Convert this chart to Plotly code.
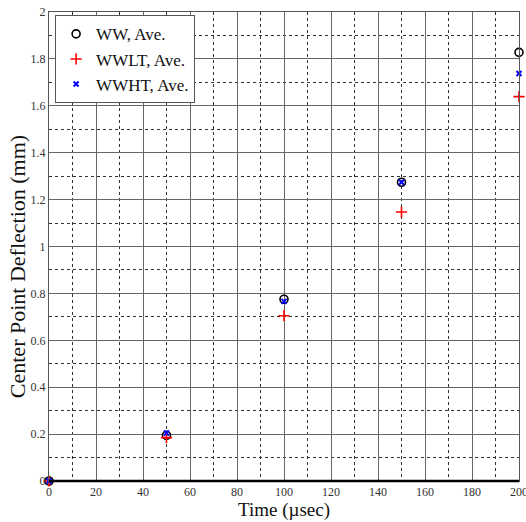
import plotly.graph_objects as go

time_us = [0, 50, 100, 150, 200]
ww_ave = [0.0, 0.195, 0.775, 1.274, 1.828]
wwlt_ave = [0.0, 0.185, 0.705, 1.147, 1.639]
wwht_ave = [0.0, 0.205, 0.766, 1.274, 1.738]

x_ticks = list(range(0, 201, 20))
y_ticks = [0, 0.2, 0.4, 0.6, 0.8, 1, 1.2, 1.4, 1.6, 1.8, 2]
y_tick_text = ["0", "0.2", "0.4", "0.6", "0.8", "1", "1.2", "1.4", "1.6", "1.8", "2"]
y_title = "Center Point Deflection (mm)"
x_title = "Time (µsec)"

serif = "Liberation Serif, Times New Roman, serif"

fig = go.Figure()
fig.add_trace(go.Scatter(x=time_us, y=ww_ave, mode="markers", name="WW, Ave.",
                         marker=dict(symbol="circle-open", size=8, color="black", line=dict(width=1.6)),
                         cliponaxis=False))
fig.add_trace(go.Scatter(x=time_us, y=wwlt_ave, mode="markers", name="WWLT, Ave.",
                         marker=dict(symbol="cross-thin", size=8, color="red", line=dict(width=1.6, color="red")),
                         cliponaxis=False))
fig.add_trace(go.Scatter(x=time_us, y=wwht_ave, mode="markers", name="WWHT, Ave.",
                         marker=dict(symbol="x-thin", size=5, color="blue", line=dict(width=2, color="blue")),
                         cliponaxis=False))

fig.add_shape(type="line", xref="paper", yref="paper", x0=0, x1=1, y0=0, y1=0,
              line=dict(color="black", width=2.5))

fig.add_annotation(text=y_title, xref="paper", yref="paper", x=-0.068, y=0.456,
                   xanchor="center", yanchor="middle", textangle=-90, showarrow=False,
                   font=dict(family=serif, size=22, color="#111"))

fig.update_layout(
    width=526, height=522,
    margin=dict(l=49, r=7, t=12, b=41, autoexpand=False),
    paper_bgcolor="white", plot_bgcolor="white",
    font=dict(family=serif, color="#222"),
    showlegend=True,
    legend=dict(x=0.013, y=0.993, xanchor="left", yanchor="top",
                bgcolor="white", bordercolor="#555", borderwidth=1,
                font=dict(family=serif, size=17, color="#111"),
                itemsizing="trace", tracegroupgap=0),
    xaxis=dict(range=[0, 200], tickvals=x_ticks, ticks="", showline=True, mirror=True,
               linecolor="#555", linewidth=1, showgrid=True, gridcolor="#666", gridwidth=1,
               zeroline=False, automargin=False, ticklabeloverflow="allow",
               tickfont=dict(family=serif, size=12, color="#333"),
               title=dict(text=x_title, font=dict(family=serif, size=19, color="#111"), standoff=2),
               minor=dict(dtick=10, tick0=0, showgrid=True, gridcolor="#333", griddash="dot", gridwidth=1)),
    yaxis=dict(range=[0, 2], tickvals=y_ticks, ticktext=y_tick_text, ticks="", showline=True, mirror=True,
               linecolor="#555", linewidth=1, showgrid=True, gridcolor="#666", gridwidth=1,
               zeroline=False, automargin=False, ticklabeloverflow="allow",
               tickfont=dict(family=serif, size=12, color="#333"),
               minor=dict(dtick=0.1, tick0=0, showgrid=True, gridcolor="#333", griddash="dot", gridwidth=1)),
)

fig.write_html("out.html", config={"displayModeBar": False},
               post_script="document.body.style.margin='0';document.body.style.overflow='hidden';")
